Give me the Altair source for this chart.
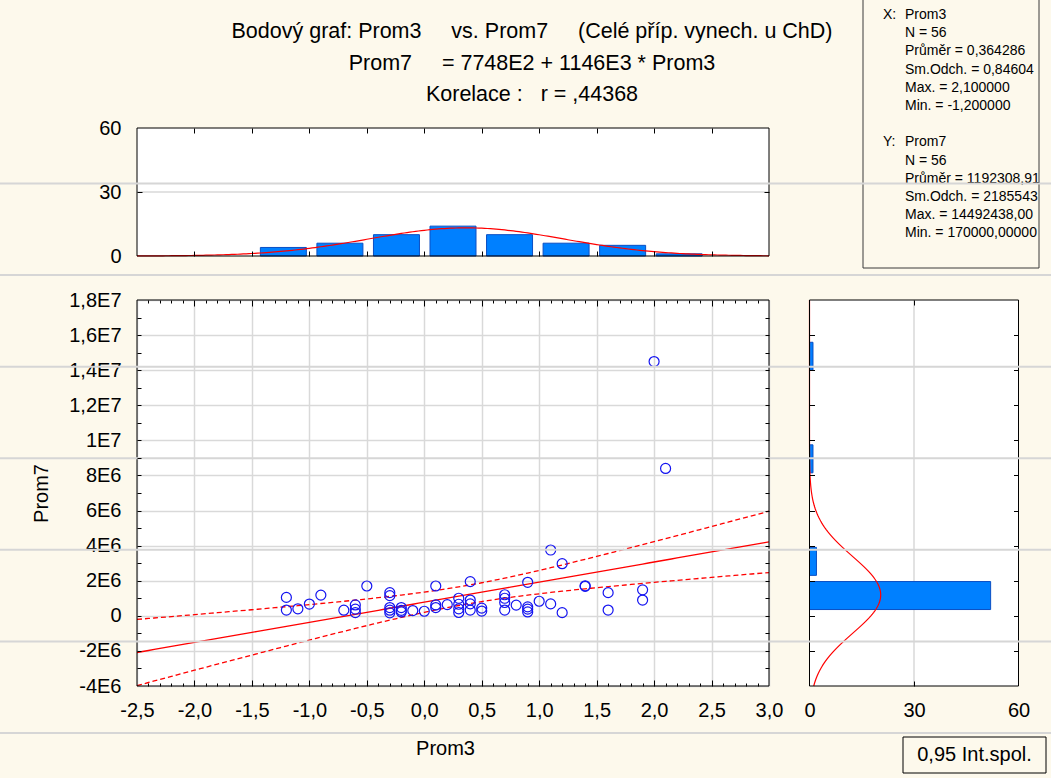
import json
import numpy as np
import pandas as pd
import altair as alt

FONT = "Liberation Sans"
BG = "#FDF9EC"
BLUE_FILL = "#0080FF"
BLUE_EDGE = "#0A4FC4"
POINT_BLUE = "#1414F0"
RED = "#FF0000"
GRID = "#D9D9D9"
SCAN_LINE = "#D6D6D6"

# ---------------- data ----------------
PROM3 = [-1.2, -1.2, -1.1, -1.0, -0.9, -0.7, -0.6, -0.6, -0.6, -0.5,
         -0.3, -0.3, -0.3, -0.3, -0.3, -0.2, -0.2, -0.2, -0.1, 0.0,
         0.1, 0.1, 0.1, 0.2, 0.3, 0.3, 0.3, 0.3, 0.4, 0.4, 0.4, 0.4,
         0.5, 0.5, 0.7, 0.7, 0.7, 0.7, 0.8, 0.9, 0.9, 0.9, 0.9, 1.0,
         1.1, 1.1, 1.2, 1.2, 1.4, 1.4, 1.6, 1.6, 1.9, 1.9, 2.0, 2.1]
PROM7 = [1050000, 330000, 400000, 670000, 1180000, 320000, 620000, 380000, 180000, 1700000,
         1320000, 1150000, 470000, 320000, 170000, 470000, 310000, 220000, 300000, 260000,
         1700000, 620000, 470000, 640000, 1000000, 660000, 400000, 190000, 1950000, 900000, 680000, 330000,
         440000, 270000, 1200000, 1000000, 760000, 330000, 610000, 1910000, 510000, 380000, 220000, 830000,
         3750000, 680000, 2970000, 180000, 1710000, 1680000, 1320000, 330000, 1480000, 900000, 14492438, 8400000]

HIST_X_CENTERS = [-1.25, -0.75, -0.25, 0.25, 0.75, 1.25, 1.75, 2.25]
HIST_X_COUNTS = [4, 6, 10, 14, 10, 6, 5, 1]
HIST_X_BINW = 0.5
HIST_Y_CENTERS = [1e6, 3e6, 9e6, 1.5e7]
HIST_Y_COUNTS = [52, 2, 1, 1]
HIST_Y_BINW = 2e6

# statistics printed in the chart
N_OBS = 56
MEAN_X, SD_X = 0.364286, 0.84604
MEAN_Y, SD_Y = 1192308.91, 2185543.0
R_XY = 0.44368
T975 = 2.0049  # t(0.975, 54)

X_TICKS = [-2.5, -2.0, -1.5, -1.0, -0.5, 0.0, 0.5, 1.0, 1.5, 2.0, 2.5, 3.0]
X_LABELS = ["-2,5", "-2,0", "-1,5", "-1,0", "-0,5", "0,0", "0,5", "1,0", "1,5", "2,0", "2,5", "3,0"]
Y_TICKS = [-4e6, -2e6, 0.0, 2e6, 4e6, 6e6, 8e6, 1e7, 1.2e7, 1.4e7, 1.6e7, 1.8e7]
Y_LABELS = ["-4E6", "-2E6", "0", "2E6", "4E6", "6E6", "8E6", "1E7", "1,2E7", "1,4E7", "1,6E7", "1,8E7"]
HIST_TICKS = [0, 30, 60]

NB = "\u00a0"
TITLE_LINES = [
    "Bodový graf: Prom3" + NB * 5 + "vs. Prom7" + NB * 5 + "(Celé příp. vynech. u ChD)",
    "Prom7" + NB * 5 + "= 7748E2 + 1146E3 * Prom3",
    "Korelace :" + NB * 3 + "r = ,44368",
]
STATS_ROW = [0, 0, 1, 2, 3, 4, 5, 7, 7, 8, 9, 10, 11, 12]
STATS_COL = [0, 1, 1, 1, 1, 1, 1, 0, 1, 1, 1, 1, 1, 1]
STATS_TEXT = ["X:", "Prom3", "N = 56", "Průměr = 0,364286", "Sm.Odch. = 0,84604",
              "Max. = 2,100000", "Min. = -1,200000",
              "Y:", "Prom7", "N = 56", "Průměr = 1192308,91", "Sm.Odch. = 2185543",
              "Max. = 14492438,000", "Min. = 170000,00000"]
CI_LABEL = "0,95 Int.spol."
SCAN_ROWS = [0, 1, 2, 3, 4, 5, 6]  # faint horizontal scan lines crossing the whole picture

# ---------------- layout (pixels relative to scatter plot origin) ----------------
W, H = 632, 386
SX = {"domain": [-2.5, 3.0], "nice": False, "zero": False}
SY = {"domain": [-4e6, 1.8e7], "nice": False, "zero": False}
THY = {"domain": [0, 60], "range": [-44, -172], "nice": False, "zero": False}
RHX = {"domain": [0, 60], "range": [672.5, 881.5], "nice": False, "zero": False}


def qx(field, sc, axis=None):
    return alt.X(field, type="quantitative", scale=alt.Scale(**sc), axis=axis)


def qy(field, sc, axis=None):
    return alt.Y(field, type="quantitative", scale=alt.Scale(**sc), axis=axis)


DUMMY = pd.DataFrame({"v": [0.0]})


def carrier(xsc=None, xaxis=None, ysc=None, yaxis=None):
    enc = {}
    if xsc is not None:
        enc["x"] = qx("v", xsc, xaxis)
    if ysc is not None:
        enc["y"] = qy("v", ysc, yaxis)
    return alt.Chart(DUMMY).mark_point(opacity=0).encode(**enc)


def tick_axis(orient, offset, values, size):
    return alt.Axis(orient=orient, offset=offset, values=values, ticks=True, tickSize=size,
                    tickColor="black", tickWidth=1, labels=False, domain=False, grid=False,
                    title=None, zindex=2)


def box(xd, yd, xsc, ysc, **mk):
    df = pd.DataFrame({"x0": [xd[0]], "x1": [xd[1]], "y0": [yd[0]], "y1": [yd[1]]})
    return alt.Chart(df).mark_rect(**mk).encode(
        x=qx("x0", xsc), x2="x1", y=qy("y0", ysc), y2="y1")


def lookup_expr(vals, labels):
    return "%s[indexof(%s, datum.value)]" % (json.dumps(labels), json.dumps(vals))


# ---------------- derived fit lines (from printed statistics) ----------------
def npdf(z):
    return np.exp(-0.5 * z * z) / np.sqrt(2 * np.pi)


B1 = R_XY * SD_Y / SD_X
B0 = MEAN_Y - B1 * MEAN_X
S_RES = SD_Y * np.sqrt((1 - R_XY ** 2) * (N_OBS - 1) / (N_OBS - 2))
SXX = (N_OBS - 1) * SD_X ** 2

xs = np.linspace(-2.5, 3.0, 111)
fit = B0 + B1 * xs
half = T975 * S_RES * np.sqrt(1.0 / N_OBS + (xs - MEAN_X) ** 2 / SXX)
reg_df = pd.DataFrame({"x": xs, "y": fit})
ci_df = pd.concat([
    pd.DataFrame({"x": xs, "y": fit + half, "band": "upper"}),
    pd.DataFrame({"x": xs, "y": fit - half, "band": "lower"}),
])

xg = np.linspace(-2.5, 3.0, 221)
thc_df = pd.DataFrame({"x": xg, "y": N_OBS * HIST_X_BINW * npdf((xg - MEAN_X) / SD_X) / SD_X})
yg = np.linspace(-4e6, 1.8e7, 221)
rhc_df = pd.DataFrame({"y": yg, "x": N_OBS * HIST_Y_BINW * npdf((yg - MEAN_Y) / SD_Y) / SD_Y})

pts_df = pd.DataFrame({"x": PROM3, "y": PROM7})
th_df = pd.DataFrame({"c": HIST_X_CENTERS, "n": HIST_X_COUNTS})
rh_df = pd.DataFrame({"c": HIST_Y_CENTERS, "n": HIST_Y_COUNTS})

layers = []

# panel backgrounds
layers.append(box([-2.5, 3.0], [0, 60], SX, THY, fill="white", strokeWidth=0))
layers.append(box([0, 60], [-4e6, 1.8e7], RHX, SY, fill="white", strokeWidth=0))

# scatter labelled axes with grid
layers.append(carrier(
    SX, alt.Axis(orient="bottom", values=X_TICKS, labelExpr=lookup_expr(X_TICKS, X_LABELS),
                 ticks=False, tickSize=0, domain=False, grid=True, gridColor=GRID, gridWidth=1.5,
                 labelPadding=24, labelBaseline="middle", labelFlush=False, labelOverlap=False,
                 title="Prom3", titleX=308, titleY=62, titleBaseline="middle", titleAlign="center"),
    SY, alt.Axis(orient="left", values=Y_TICKS, labelExpr=lookup_expr(Y_TICKS, Y_LABELS),
                 ticks=False, tickSize=0, domain=False, grid=True, gridColor=GRID, gridWidth=1.5,
                 labelPadding=16, labelOverlap=False, title="Prom7", titleX=-96, titleY=193,
                 titleAngle=270, titleBaseline="middle", titleAlign="center")))

# histogram grid lines
g30 = pd.DataFrame({"g": [30], "a": [-2.5], "b": [3.0], "ya": [-4e6], "yb": [1.8e7]})
layers.append(alt.Chart(g30).mark_rule(color=GRID, strokeWidth=1.5).encode(
    y=qy("g", THY), x=qx("a", SX), x2="b"))
layers.append(alt.Chart(g30).mark_rule(color=GRID, strokeWidth=1.5).encode(
    x=qx("g", RHX), y=qy("ya", SY), y2="yb"))

# histograms
layers.append(alt.Chart(th_df).mark_bar(orient="vertical", size=46, fill=BLUE_FILL, stroke=BLUE_EDGE,
                                        strokeWidth=1).encode(x=qx("c", SX), y=qy("n", THY)))
layers.append(alt.Chart(thc_df).mark_line(color=RED, strokeWidth=1.2).encode(
    x=qx("x", SX), y=qy("y", THY)))
layers.append(alt.Chart(rh_df).mark_bar(orient="horizontal", size=28, fill=BLUE_FILL, stroke=BLUE_EDGE,
                                        strokeWidth=1).encode(x=qx("n", RHX), y=qy("c", SY)))
layers.append(alt.Chart(rhc_df).mark_line(color=RED, strokeWidth=1.2).encode(
    x=qx("x", RHX), y=qy("y", SY), order=alt.Order("y:Q")))

# regression + confidence band + points
layers.append(alt.Chart(ci_df).mark_line(color=RED, strokeWidth=1.3, strokeDash=[5, 3]).encode(
    x=qx("x", SX), y=qy("y", SY), detail="band:N"))
layers.append(alt.Chart(reg_df).mark_line(color=RED, strokeWidth=1.3).encode(
    x=qx("x", SX), y=qy("y", SY)))
layers.append(alt.Chart(pts_df).mark_point(shape="circle", filled=False, size=100, stroke=POINT_BLUE,
                                           strokeWidth=1.2, opacity=1).encode(
    x=qx("x", SX), y=qy("y", SY)))

# frames
layers.append(box([-2.5, 3.0], [-4e6, 1.8e7], SX, SY, fillOpacity=0, stroke="black", strokeWidth=1))
layers.append(box([-2.5, 3.0], [0, 60], SX, THY, fillOpacity=0, stroke="black", strokeWidth=1))
layers.append(box([0, 60], [-4e6, 1.8e7], RHX, SY, fillOpacity=0, stroke="black", strokeWidth=1))

# histogram labelled axes
layers.append(carrier(ysc=THY, yaxis=alt.Axis(orient="left", values=HIST_TICKS, ticks=False, tickSize=0,
                                              domain=False, grid=False, labelPadding=16,
                                              labelOverlap=False, title=None)))
layers.append(carrier(xsc=RHX, xaxis=alt.Axis(orient="bottom", values=HIST_TICKS, ticks=False, tickSize=0,
                                              domain=False, grid=False, labelPadding=24,
                                              labelBaseline="middle", labelFlush=False,
                                              labelOverlap=False, title=None)))

# inward ticks
x_major = [v for v in X_TICKS[1:-1]]
x_minor = [round(-2.4 + 0.1 * i, 1) for i in range(54)]
x_minor = [v for v in x_minor if round(v * 2) != v * 2]
y_all = [-3e6 + 1e6 * i for i in range(21)]
rh_y = [-2e6 + 2e6 * i for i in range(10)]
# scatter
layers.append(carrier(SX, tick_axis("top", -H, x_major, 6), SY, tick_axis("right", -W, y_all, 4)))
layers.append(carrier(SX, tick_axis("top", -H, x_minor, 3), SY, tick_axis("left", -W, y_all, 4)))
layers.append(carrier(SX, tick_axis("bottom", -H, x_major, 6)))
layers.append(carrier(SX, tick_axis("bottom", -H, x_minor, 3)))
# top histogram
layers.append(carrier(SX, tick_axis("top", 44, x_major, 5), THY, tick_axis("right", -W, [30], 5)))
layers.append(carrier(SX, tick_axis("bottom", -558, x_major, 5), THY, tick_axis("left", -W, [30], 5)))
# right histogram
layers.append(carrier(RHX, tick_axis("bottom", -H, [30], 5), SY, tick_axis("right", 40.5, rh_y, 5)))
layers.append(carrier(RHX, tick_axis("top", -H, [30], 5), SY, tick_axis("left", -881.5, rh_y, 5)))

# statistics box (text cut at the box edge, as in the original)
layers.append(alt.Chart(DUMMY).mark_rect(fillOpacity=0, stroke="#3A3A3A", strokeWidth=1).encode(
    x=alt.value(726), x2=alt.value(902), y=alt.value(-301), y2=alt.value(-32)))
stats_df = pd.DataFrame({"row": STATS_ROW, "col": STATS_COL, "t": STATS_TEXT})
layers.append(alt.Chart(stats_df).mark_text(align="left", baseline="middle", font=FONT, fontSize=14,
                                            color="black", limit=135, ellipsis="\u200b").encode(
    x=alt.X("col:Q", scale=alt.Scale(domain=[0, 1], range=[746, 768]), axis=None),
    y=alt.Y("row:Q", scale=alt.Scale(domain=[0, 12], range=[-285, -66.6]), axis=None),
    text="t:N"))

# title
title_df = pd.DataFrame({"row": [0, 1, 2], "t": TITLE_LINES})
layers.append(alt.Chart(title_df).mark_text(align="center", baseline="middle", font=FONT, fontSize=21.5,
                                            color="black").encode(
    x=alt.value(395),
    y=alt.Y("row:Q", scale=alt.Scale(domain=[0, 2], range=[-268, -205]), axis=None),
    text="t:N"))

# confidence legend box
layers.append(alt.Chart(DUMMY).mark_rect(fillOpacity=0, stroke="black", strokeWidth=1).encode(
    x=alt.value(766), x2=alt.value(909), y=alt.value(437), y2=alt.value(473)))
layers.append(alt.Chart(pd.DataFrame({"t": [CI_LABEL]})).mark_text(
    align="center", baseline="middle", font=FONT, fontSize=20, color="black").encode(
    x=alt.value(837.5), y=alt.value(455), text="t:N"))

# faint scan lines that cross the whole picture
layers.append(alt.Chart(pd.DataFrame({"row": SCAN_ROWS})).mark_rule(color=SCAN_LINE, strokeWidth=2).encode(
    y=alt.Y("row:Q", scale=alt.Scale(domain=[0, 6], range=[-116.5, 433]), axis=None),
    x=alt.value(-137), x2=alt.value(914)))

chart = alt.layer(*layers).resolve_scale(x="independent", y="independent").resolve_axis(
    x="independent", y="independent").properties(
    width=W, height=H,
    autosize=alt.AutoSizeParams(type="none"),
    padding={"left": 137, "top": 300, "right": 282, "bottom": 92},
    background=BG,
).configure_view(fill="white", stroke="transparent").configure_axis(
    labelFont=FONT, titleFont=FONT, labelColor="black", titleColor="black",
    labelFontSize=20, titleFontSize=20, titleFontWeight="normal")

chart.save("out.html", embed_options={"renderer": "svg", "actions": False})
